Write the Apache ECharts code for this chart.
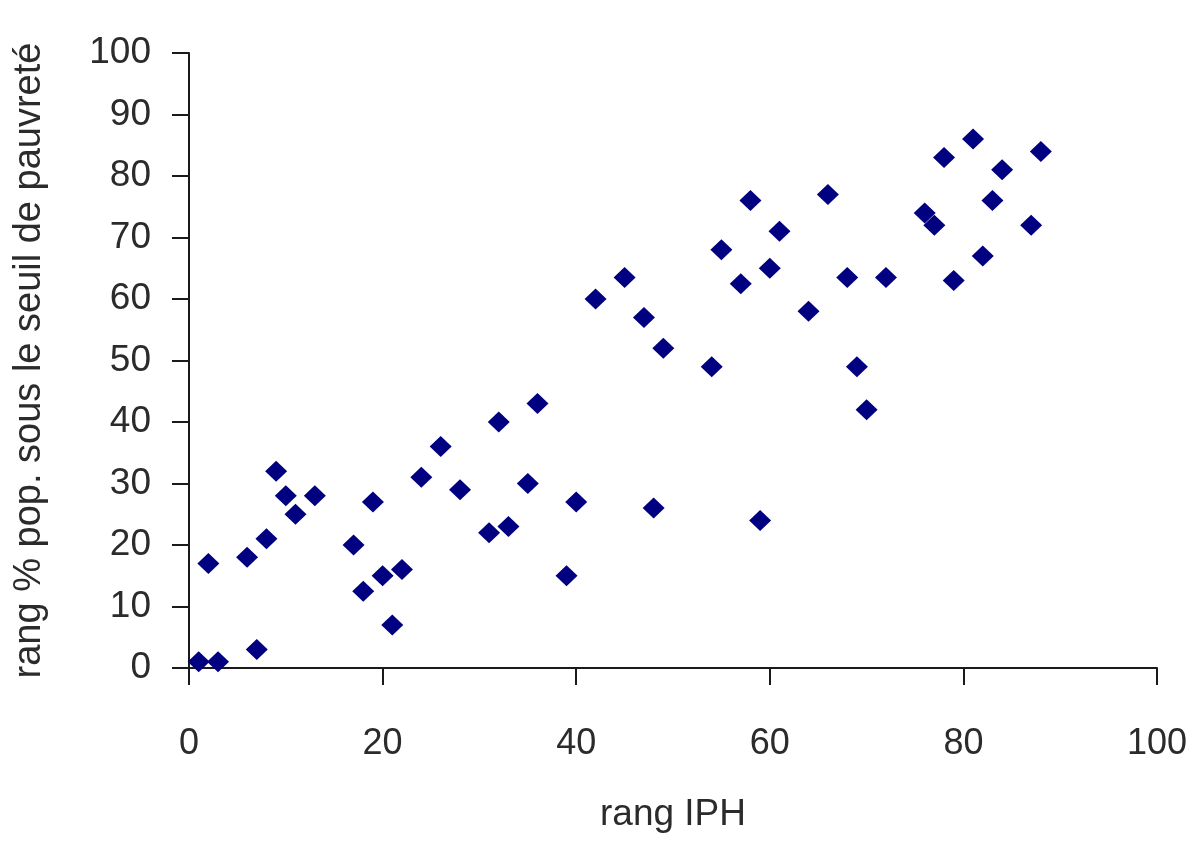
<!DOCTYPE html>
<html>
<head>
<meta charset="utf-8">
<title>rang IPH</title>
<script src="https://cdn.jsdelivr.net/npm/echarts@6/dist/echarts.min.js"></script>
<style>
    html, body { margin: 0; padding: 0; background: #fff; }
    #chart { width: 1200px; height: 845px; }
</style>
</head>
<body>
<div id="chart"></div>
<script>
    // rang IPH (x) / rang % pop. sous le seuil de pauvreté (y)
    var rangIPH = [
        1, 3, 7, 2, 6, 8, 9, 10, 11, 13,
        17, 18, 19, 20, 21, 22, 24, 26, 28, 31,
        32, 33, 35, 36, 39, 40, 42, 45, 47, 48,
        49, 54, 55, 57, 58, 59, 60, 61, 64, 66,
        68, 69, 70, 72, 76, 77, 78, 79, 81, 82,
        83, 84, 87, 88
    ];
    var rangPauvrete = [
        1, 1, 3, 17, 18, 21, 32, 28, 25, 28,
        20, 12.5, 27, 15, 7, 16, 31, 36, 29, 22,
        40, 23, 30, 43, 15, 27, 60, 63.5, 57, 26,
        52, 49, 68, 62.5, 76, 24, 65, 71, 58, 77,
        63.5, 49, 42, 63.5, 74, 72, 83, 63, 86, 67,
        76, 81, 72, 84
    ];
    var xTicks = [0, 20, 40, 60, 80, 100];
    var yTicks = [0, 10, 20, 30, 40, 50, 60, 70, 80, 90, 100];

    var points = rangIPH.map(function (x, i) {
        return [x, rangPauvrete[i]];
    });

    var chart = echarts.init(document.getElementById('chart'));
    var fontFamily = 'Liberation Sans, Arial, sans-serif';
    var axisColor = '#1a1a1a';
    var textColor = '#2b2b2b';

    var options = {
        animation: false,
        backgroundColor: '#fff',
        grid: {
            left: 189,
            right: 43,
            top: 53,
            bottom: 177
        },
        xAxis: {
            type: 'value',
            min: xTicks[0],
            max: xTicks[xTicks.length - 1],
            interval: xTicks[1] - xTicks[0],
            name: 'rang IPH',
            nameLocation: 'middle',
            nameGap: 128,
            nameTextStyle: {
                fontFamily: fontFamily,
                fontSize: 37,
                color: textColor
            },
            axisLine: {
                onZero: false,
                lineStyle: { color: axisColor, width: 2 }
            },
            axisTick: {
                length: 17,
                lineStyle: { color: axisColor, width: 2 }
            },
            axisLabel: {
                margin: 58,
                fontFamily: fontFamily,
                fontSize: 36,
                color: textColor
            },
            splitLine: { show: false }
        },
        yAxis: {
            type: 'value',
            min: yTicks[0],
            max: yTicks[yTicks.length - 1],
            interval: yTicks[1] - yTicks[0],
            name: 'rang % pop. sous le seuil de pauvreté',
            nameLocation: 'middle',
            nameGap: 140,
            nameTextStyle: {
                fontFamily: fontFamily,
                fontSize: 38,
                color: textColor
            },
            axisLine: {
                show: true,
                onZero: false,
                lineStyle: { color: axisColor, width: 2 }
            },
            axisTick: {
                show: true,
                length: 17,
                lineStyle: { color: axisColor, width: 2 }
            },
            axisLabel: {
                margin: 38,
                fontFamily: fontFamily,
                fontSize: 37,
                color: textColor
            },
            splitLine: { show: false }
        },
        series: [{
            type: 'scatter',
            data: points,
            symbol: 'diamond',
            symbolSize: [22, 21],
            itemStyle: {
                color: '#000080',
                opacity: 1
            }
        }]
    };
    chart.setOption(options);
</script>
</body>
</html>
